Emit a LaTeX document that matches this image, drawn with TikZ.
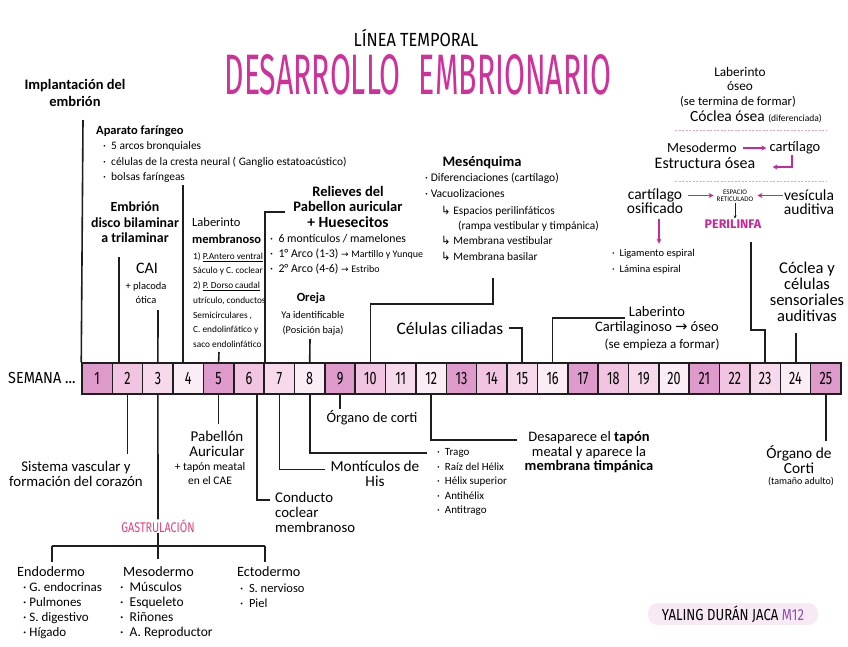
\documentclass[tikz,border=0pt]{standalone}
\usepackage{fontspec}
\usepackage{graphicx}
\setmainfont{Carlito}
\newfontfamily\headfont{Fira Sans}
\newfontfamily\symfont{DejaVu Sans}
\usetikzlibrary{arrows.meta}

\definecolor{ink}{HTML}{1E1E1E}
\definecolor{tpink}{HTML}{D0309A}
\definecolor{apink}{HTML}{C8289A}
\definecolor{gpink}{HTML}{E8407E}
\definecolor{dpink}{HTML}{E9A0D0}
\definecolor{wk0}{HTML}{DE9ACB}
\definecolor{wk1}{HTML}{F1C4E1}
\definecolor{wk2}{HTML}{F6DAEC}
\definecolor{wk3}{HTML}{FBEDF6}
\definecolor{sigfill}{HTML}{F8EAF4}
\definecolor{mpurple}{HTML}{8B4FB8}

\tikzset{
  week/.style={draw=ink, line width=1.5pt, minimum width=30.36pt, minimum height=31pt, inner sep=0pt, font=\headfont\fontsize{18}{18}\selectfont},
  head/.style={inner sep=0pt, align=center, font=\bfseries\fontsize{12.5}{15.5}\selectfont},
  note/.style={inner sep=0pt, align=left, font=\fontsize{9}{15.5}\selectfont},
  conn/.style={draw=ink, line width=1.6pt},
  parrow/.style={draw=apink, line width=1.3pt, -{Stealth[length=5pt,width=5pt]}},
  pdash/.style={draw=dpink, line width=1pt, dash pattern=on 2pt off 1.5pt},
}

\begin{document}
\begin{tikzpicture}[x=1pt, y=-1pt]
  \fill[white] (0,0) rectangle (848,646);
  \useasboundingbox (0,0) rectangle (848,646);

  % Titulo
  \node[inner sep=0pt] (linea) at (416,38) {\headfont\fontsize{19}{19}\selectfont\scalebox{0.86}[1]{LÍNEA TEMPORAL}};
  \node[inner sep=0pt, text=tpink] (titulo) at (418,75) {\resizebox{387pt}{40pt}{\headfont\fontsize{40}{40}\selectfont DESARROLLO\hspace{0.6em}EMBRIONARIO}};

  % Linea de tiempo
  \node[inner sep=0pt, anchor=west] (semana) at (8,378) {\headfont\fontsize{16}{16}\selectfont\scalebox{0.9}[1]{SEMANA ...}};
  \foreach \i in {1,...,25}{
    \pgfmathtruncatemacro{\k}{mod(\i-1,4)}
    \node[week, fill=wk\k] (w\i) at ({82+30.36*(\i-0.5)},378.5) {\scalebox{0.7}[1]{\i}};
  }

  % Arriba de la linea
  \node[head, font=\bfseries\fontsize{14.5}{16.5}\selectfont] (implant) at (75,93) {Implantación del\\embrión};
  \node[head, anchor=west, font=\bfseries\fontsize{12.5}{14}\selectfont] (faringeo) at (96,131) {Aparato faríngeo};
  \node[note, anchor=west, font=\fontsize{11.4}{15.5}\selectfont] (faringeolist) at (103,162.5) {·~~5 arcos bronquiales\\·~~células de la cresta neural ( Ganglio estatoacústico)\\·~~bolsas faríngeas};
  \node[head, font=\bfseries\fontsize{13.9}{15.5}\selectfont] (bilaminar) at (135,222.5) {Embrión\\disco bilaminar\\a trilaminar};
  \node[head, font=\fontsize{16}{16}\selectfont] (cai) at (147,268) {CAI};
  \node[head, font=\fontsize{10.5}{14}\selectfont] (placoda) at (146,293) {+ placoda\\ótica};
  \node[note, anchor=west, font=\fontsize{12.5}{17}\selectfont] (labmem) at (192,230.5) {Laberinto\\\textbf{membranoso}};
  \node[note, anchor=west, font=\fontsize{9.3}{14.7}\selectfont] (labmemlist) at (193,300) {1) \underline{P.Antero ventral}\\Sáculo y C. coclear\\2) \underline{P. Dorso caudal}\\utrículo, conductos\\Semicirculares ,\\C. endolinfático y\\saco endolinfático};
  \node[head, font=\bfseries\fontsize{14.5}{15.5}\selectfont] (relieves) at (348,206.5) {Relieves del\\Pabellon auricular\\{\fontsize{15.5}{15.5}\selectfont + Huesecitos}};
  \node[note, anchor=west, font=\fontsize{11.8}{15}\selectfont] (relieveslist) at (270,254) {·~~6 montículos / mamelones\\·~~1° Arco (1-3) {\symfont\fontsize{9}{9}\selectfont→} {\fontsize{10}{10}\selectfont Martillo y Yunque}\\·~~2° Arco (4-6) {\symfont\fontsize{9}{9}\selectfont→} {\fontsize{10}{10}\selectfont Estribo}};
  \node[head, font=\bfseries\fontsize{12.5}{15}\selectfont] (oreja) at (311,298) {Oreja};
  \node[head, font=\fontsize{10.3}{15}\selectfont] (orejalist) at (313,323.5) {Ya identificable\\(Posición baja)};
  \node[head, font=\bfseries\fontsize{14.5}{15}\selectfont] (mesen) at (482,163) {Mesénquima};
  \node[note, anchor=west, font=\fontsize{11.6}{16}\selectfont] (mesenlist) at (425,185) {·~Diferenciaciones (cartílago)\\·~Vacuolizaciones};
  \node[note, anchor=west, font=\fontsize{11.4}{15.3}\selectfont] (mesensub) at (441,233) {{\symfont↳} Espacios perilinfáticos\\\hspace{17pt}(rampa vestibular y timpánica)\\{\symfont↳} Membrana vestibular\\{\symfont↳} Membrana basilar};
  \node[head, font=\fontsize{17.5}{17}\selectfont] (celulas) at (450,328) {Células ciliadas};
  \node[head, font=\fontsize{14.5}{15}\selectfont] (labcart) at (657,320.5) {Laberinto\\Cartilaginoso {\symfont→} óseo};
  \node[head, font=\fontsize{13}{15}\selectfont] (empieza) at (662,345) {(se empieza a formar)};

  % Esquina derecha
  \node[head, font=\fontsize{13.3}{14}\selectfont] (labos) at (740,79) {Laberinto\\óseo};
  \node[head, font=\fontsize{12.6}{14}\selectfont] (termina) at (738,102) {(se termina de formar)};
  \node[head, font=\fontsize{15.5}{14}\selectfont] (coclea) at (756,117) {Cóclea ósea {\fontsize{9.5}{9}\selectfont (diferenciada)}};
  \draw[pdash] (675,130) -- (826,130);
  \node[head, font=\fontsize{14}{14}\selectfont] (meso) at (702,148) {Mesodermo};
  \node[head, font=\fontsize{14.5}{14}\selectfont] (cart) at (795,148) {cartílago};
  \node[head, font=\fontsize{16}{14}\selectfont] (estructura) at (705,163) {Estructura ósea};
  \draw[parrow, shorten <=6pt, shorten >=3pt] (meso.east) -- (cart.west);
  \draw[parrow] ([xshift=-3pt,yshift=-1pt]cart.south) |- ([xshift=17pt,yshift=-4pt]estructura.east);
  \draw[pdash] (675,181) -- (826,181);
  \node[head, font=\fontsize{15.5}{14}\selectfont] (osific) at (655,201) {cartílago\\osificado};
  \node[head, font=\fontsize{7}{7.5}\selectfont] (espacio) at (735,195.5) {ESPACIO\\RETICULADO};
  \node[head, font=\headfont\bfseries\fontsize{12.5}{12}\selectfont, text=apink] (perilinfa) at (733,224) {PERILINFA};
  \node[head, font=\fontsize{15.5}{14}\selectfont] (vesicula) at (809,202) {vesícula\\auditiva};
  \draw[parrow, shorten <=5pt, shorten >=3pt] (osific.east |- espacio.west) -- (espacio.west);
  \draw[parrow, shorten <=1pt, shorten >=4pt] (vesicula.west |- espacio.east) -- (espacio.east);
  \draw[-{Stealth[length=3pt,width=3pt]}, line width=0.6pt, ink, shorten <=1pt, shorten >=1pt] (espacio.south) -- (perilinfa.north -| espacio.south);
  \draw[parrow] ([xshift=4pt,yshift=-5pt]osific.south) -- ++(0,25);
  \node[note, anchor=west, font=\fontsize{10.5}{16}\selectfont] (ligam) at (612,262) {·~~Ligamento espiral\\·~~Lámina espiral};
  \node[head, font=\fontsize{16.5}{16}\selectfont] (sensorial) at (807,292) {Cóclea y\\células\\sensoriales\\auditivas};

  % Abajo de la linea
  \node[head, font=\fontsize{14.8}{15}\selectfont] (sistema) at (76,474) {Sistema vascular y\\formación del corazón};
  \node[inner sep=0pt, text=gpink] (gastrul) at (158,526) {\headfont\fontsize{14}{14}\selectfont\scalebox{0.77}[1]{GASTRULACIÓN}};
  \node[note, anchor=west, font=\fontsize{14.2}{14}\selectfont] (endo) at (17,572) {Endodermo};
  \node[note, anchor=west, font=\fontsize{13}{15}\selectfont] (endolist) at (23,610.5) {·~G. endocrinas\\·~Pulmones\\·~S. digestivo\\·~Hígado};
  \node[note, anchor=west, font=\fontsize{14.2}{14}\selectfont] (meso2) at (123,572) {Mesodermo};
  \node[note, anchor=west, font=\fontsize{13.5}{15}\selectfont] (meso2list) at (120,610.5) {·~~Músculos\\·~~Esqueleto\\·~~Riñones\\·~~A. Reproductor};
  \node[note, anchor=west, font=\fontsize{14.2}{14}\selectfont] (ecto) at (237,572) {Ectodermo};
  \node[note, anchor=west, font=\fontsize{12.5}{15}\selectfont] (ectolist) at (240,595.5) {·~~S. nervioso\\·~~Piel};
  \node[head, font=\fontsize{15}{15}\selectfont] (pabellon) at (217,443.5) {Pabellón\\Auricular};
  \node[head, font=\fontsize{11.5}{14}\selectfont] (tapon) at (210,474) {+ tapón meatal\\en el CAE};
  \node[note, anchor=west, font=\fontsize{14.8}{15}\selectfont] (conducto) at (275,512) {Conducto\\coclear\\membranoso};
  \node[head, font=\fontsize{15.3}{15}\selectfont] (monticulos) at (375,473.5) {Montículos de\\His};
  \node[note, anchor=west, font=\fontsize{11}{14.5}\selectfont] (helix) at (437,482) {·~~Trago\\·~~Raíz del Hélix\\·~~Hélix superior\\·~~Antihélix\\·~~Antitrago};
  \node[head, font=\fontsize{14.4}{15}\selectfont] (organo) at (372,418) {Órgano de corti};
  \node[head, font=\fontsize{14.5}{14.5}\selectfont] (desaparece) at (589,452.5) {Desaparece el \textbf{tapón}\\meatal y aparece la\\\textbf{membrana timpánica}};
  \node[head, font=\fontsize{15.4}{15}\selectfont] (organo2) at (799,459.5) {Órgano de\\Corti};
  \node[head, font=\fontsize{10}{9}\selectfont] (adulto) at (801,482) {(tamaño adulto)};

  % Firma
  \node[fill=sigfill, rounded corners=10pt, minimum width=170pt, minimum height=22pt, inner sep=0pt] (firma) at (733,614) {\headfont\fontsize{16}{16}\selectfont\scalebox{0.82}[1]{YALING DURÁN JACA \textcolor{mpurple}{M12}}};

  % Conectores arriba
  \coordinate (c1) at (83,120);
  \coordinate (c2) at (119,257);
  \coordinate (c3) at (158,310);
  \coordinate (c4) at (183,185);
  \coordinate (c5) at (219,352);
  \coordinate (c6) at (285,212);
  \coordinate (c8) at (310,339);
  \coordinate (c10) at (493,304);
  \coordinate (c10top) at (493,278);
  \coordinate (c16) at (625,318);
  \coordinate (c23) at (751,330);
  \coordinate (c23top) at (751,242);
  \coordinate (c24) at (796,333);
  \draw[conn] (w1.north west) -- (c1);
  \draw[conn] (w2.north -| c2) -- (c2);
  \draw[conn] (w3.north) -- (c3);
  \draw[conn] (w4.north -| c4) -- (c4);
  \draw[conn] (w5.north) -- (c5);
  \draw[conn] (w6.north east) |- (c6);
  \draw[conn] (w8.north) -- (c8);
  \draw[conn] (w10.north) |- (c10) -- (c10top);
  \draw[conn] (w15.north) |- ([xshift=5pt]celulas.east);
  \draw[conn] (w16.north) |- (c16);
  \draw[conn] (w23.north) |- (c23) -- (c23top);
  \draw[conn] (w24.north -| c24) -- (c24);

  % Conectores abajo
  \coordinate (d6) at (270,500);
  \coordinate (d8) at (427,453);
  \coordinate (d12) at (517,440);
  \draw[conn] (w2.south) -- ++(0,59);
  \draw[conn] (w3.south) -- (gastrul.north);
  \draw[conn] (w5.south) -- ++(0,29);
  \draw[conn] ([xshift=8pt]w6.south) |- (d6);
  \draw[conn] (w7.south) |- ([xshift=-5pt,yshift=4pt]monticulos.west);
  \draw[conn] (w8.south) |- (d8);
  \draw[conn] (w9.south) -- ++(0,14);
  \draw[conn] (w12.south) |- (d12);
  \draw[conn] (w25.south) -- ++(0,46);
  % Capas germinales
  \draw[conn] (gastrul.south) -- ++(0,10) coordinate (g0);
  \draw[conn] (52,546) -- (265,546);
  \draw[conn] (52,546) -- ++(0,16);
  \draw[conn] (g0) -- ++(0,16);
  \draw[conn] (265,546) -- ++(0,16);
\end{tikzpicture}
\end{document}
